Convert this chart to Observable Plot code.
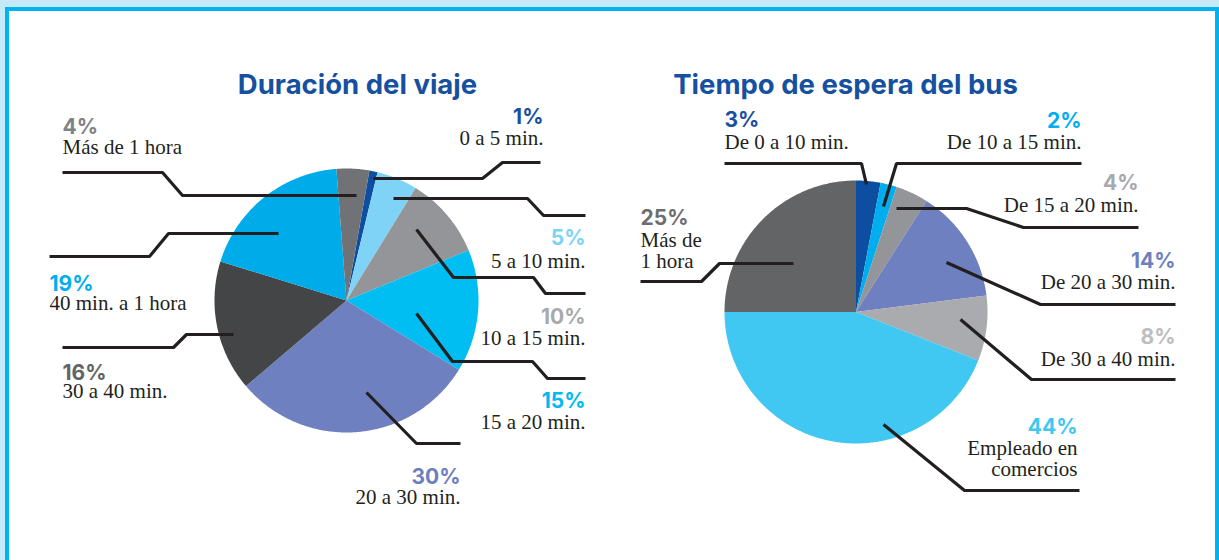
<!DOCTYPE html>
<html>
<head>
<meta charset="utf-8">
<script src="https://cdn.jsdelivr.net/npm/d3@7"></script>
<script src="https://cdn.jsdelivr.net/npm/@observablehq/plot@0.6"></script>
<style>
  html, body { margin: 0; padding: 0; }
  body { width: 1219px; height: 560px; position: relative; overflow: hidden; background: #c6e9f8; }
  #edge { position: absolute; left: 5px; top: 7px; width: 1214px; height: 553px; background: #00b3ef; }
  #paper { position: absolute; left: 9px; top: 11px; width: 1206px; height: 549px; background: #ffffff; }
  #chart { position: absolute; left: 0; top: 0; }
</style>
</head>
<body>
<div id="edge"></div>
<div id="paper"></div>
<div id="chart"></div>
<script>
// ---------- DATA ----------
const viajeTitulo = "Duración del viaje";
const viajeCategorias = ["0 a 5 min.", "5 a 10 min.", "10 a 15 min.", "15 a 20 min.", "20 a 30 min.", "30 a 40 min.", "40 min. a 1 hora", "Más de 1 hora"];
const viajeValores = [1, 5, 10, 15, 30, 16, 19, 4];

const esperaTitulo = "Tiempo de espera del bus";
const esperaCategorias = ["De 0 a 10 min.", "De 10 a 15 min.", "De 15 a 20 min.", "De 20 a 30 min.", "De 30 a 40 min.", "Empleado en\ncomercios", "Más de\n1 hora"];
const esperaValores = [3, 2, 4, 14, 8, 44, 25];

// ---------- STYLES ----------
const viajeSliceColors = ["#0d4ea1", "#7fd3f6", "#939598", "#00bdf2", "#6e80bf", "#444547", "#00abea", "#717275"];
const viajePctColors   = ["#1a4fa0", "#7dd3f5", "#a7a9ac", "#00b9f1", "#6d7fbf", "#636466", "#00aeef", "#808285"];
const esperaSliceColors = ["#0d4ea1", "#00aeef", "#939598", "#6e80bf", "#a9abae", "#41c8f2", "#636466"];
const esperaPctColors   = ["#1a4fa0", "#00aeef", "#a7a9ac", "#6d7fbf", "#bcbec0", "#41c8f2", "#6d6e71"];
const titleColor = "#1650a0";
const inkColor = "#231f20";

// ---------- LAYOUT (pixels) ----------
const viajePie = {cx: 346, cy: 300, r: 132, start: 10 * Math.PI / 180};
const esperaPie = {cx: 855.5, cy: 311.5, r: 131.5, start: 0};
const titles = [
  {text: viajeTitulo, x: 357, y: 93},
  {text: esperaTitulo, x: 845, y: 93}
];
// label anchor: x, baseline of percentage, baseline of last category line, alignment
const viajeLabelPos = [
  {x: 543, py: 123, cy: 144, a: "end"},
  {x: 585, py: 244, cy: 267, a: "end"},
  {x: 585, py: 323, cy: 344, a: "end"},
  {x: 585, py: 407, cy: 428, a: "end"},
  {x: 460, py: 483, cy: 503, a: "end"},
  {x: 62,  py: 379, cy: 397, a: "start"},
  {x: 49,  py: 290, cy: 309, a: "start"},
  {x: 62,  py: 133, cy: 153, a: "start"}
];
const esperaLabelPos = [
  {x: 724,  py: 126, cy: 148, a: "start"},
  {x: 1081, py: 127, cy: 148, a: "end"},
  {x: 1138, py: 189, cy: 211, a: "end"},
  {x: 1175, py: 267, cy: 288, a: "end"},
  {x: 1175, py: 343, cy: 365, a: "end"},
  {x: 1077, py: 433, cy: 475, a: "end"},
  {x: 640,  py: 224, cy: 267, a: "start"}
];
const viajeLeaders = [
  [[373,178],[482,178],[502,162],[540,162]],
  [[393,198],[527,198],[543,215],[585,215]],
  [[416,229],[453,277],[533,277],[545,293],[585,293]],
  [[416,313],[452,361],[532,361],[547,378],[585,378]],
  [[366,392],[416,443],[460,443]],
  [[233,334],[186,334],[173,347],[62,347]],
  [[278,233],[168,233],[149,256],[49,256]],
  [[356,195],[182,195],[162,172],[62,172]]
];
const esperaLeaders = [
  [[866,184],[861,163],[724,163]],
  [[883,206],[896,163],[1081,163]],
  [[896,208],[966,208],[1023,227],[1138,227]],
  [[946,262],[1040,304],[1175,304]],
  [[960,319],[1031,379],[1175,379]],
  [[883,424],[964,490],[1079,490]],
  [[793,263],[719,263],[701,281],[640,281]]
];

// ---------- BUILD ----------
function slicePoints(values, colors, pie, key) {
  const arcs = d3.pie().sort(null).startAngle(pie.start).endAngle(pie.start + 2 * Math.PI)(values);
  const pts = [];
  arcs.forEach((a, i) => {
    const id = key + i;
    pts.push({id, color: colors[i], x: pie.cx, y: pie.cy});
    const n = Math.max(2, Math.ceil((a.endAngle - a.startAngle) / 0.01));
    for (let k = 0; k <= n; k++) {
      const t = a.startAngle + (a.endAngle - a.startAngle) * k / n;
      pts.push({id, color: colors[i], x: pie.cx + pie.r * Math.sin(t), y: pie.cy - pie.r * Math.cos(t)});
    }
  });
  return pts;
}
function leaderPoints(lines, key) {
  const out = [];
  lines.forEach((l, i) => l.forEach(([x, y]) => out.push({id: key + i, x, y})));
  return out;
}
function labels(values, cats, pctColors, pos) {
  return values.map((v, i) => ({
    pct: v + "%", cat: cats[i], color: pctColors[i], ...pos[i]
  }));
}

const slices = [
  ...slicePoints(viajeValores, viajeSliceColors, viajePie, "v"),
  ...slicePoints(esperaValores, esperaSliceColors, esperaPie, "e")
];
const leaders = [...leaderPoints(viajeLeaders, "v"), ...leaderPoints(esperaLeaders, "e")];
const labs = [
  ...labels(viajeValores, viajeCategorias, viajePctColors, viajeLabelPos),
  ...labels(esperaValores, esperaCategorias, esperaPctColors, esperaLabelPos)
];

const sans = "Inter, Roboto, 'Open Sans', sans-serif";
const serif = "'Liberation Serif', 'DejaVu Serif', serif";

const marks = [
  Plot.line(slices, {x: "x", y: "y", z: "id", fill: "color", stroke: "none", curve: "linear"}),
  Plot.line(leaders, {x: "x", y: "y", z: "id", stroke: inkColor, strokeWidth: 3.2, strokeLinejoin: "miter", strokeLinecap: "butt"}),
  Plot.text(titles, {x: "x", y: "y", text: "text", fill: titleColor, fontFamily: sans, fontWeight: 700, fontSize: 27.5, textAnchor: "middle", lineAnchor: "bottom"})
];
for (const anchor of ["start", "end"]) {
  const sub = labs.filter(d => d.a === anchor);
  marks.push(Plot.text(sub, {x: "x", y: "py", text: "pct", fill: "color", fontFamily: sans, fontWeight: 700, fontSize: 21, textAnchor: anchor, lineAnchor: "bottom"}));
  marks.push(Plot.text(sub, {x: "x", y: "cy", text: "cat", fill: inkColor, fontFamily: serif, fontSize: 21, lineHeight: 0.98, textAnchor: anchor, lineAnchor: "bottom"}));
}

const chart = Plot.plot({
  width: 1219,
  height: 560,
  margin: 0,
  x: {domain: [0, 1219], range: [0, 1219], axis: null},
  y: {domain: [0, 560], range: [0, 560], axis: null},
  color: {type: "identity"},
  style: {background: "transparent", overflow: "visible"},
  marks
});
document.getElementById("chart").appendChild(chart);
</script>
</body>
</html>
